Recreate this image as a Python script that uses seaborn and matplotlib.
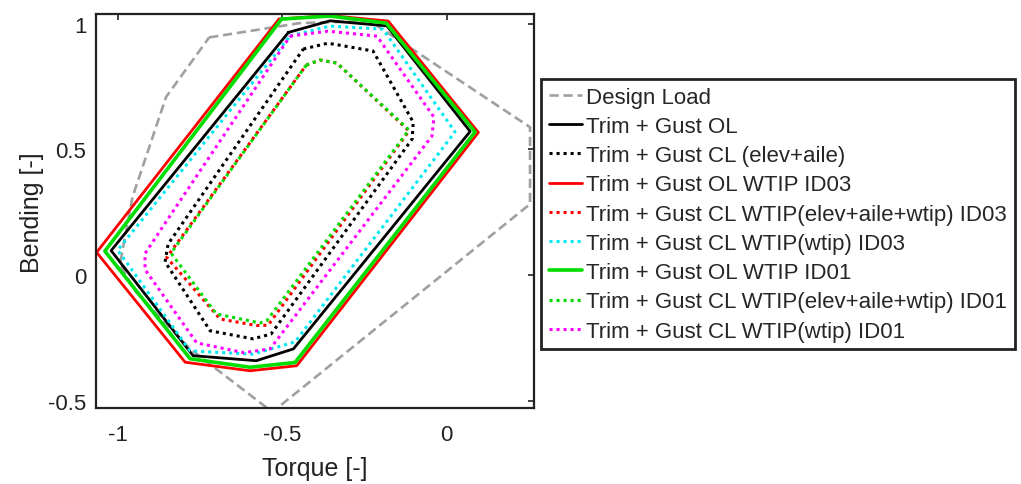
import numpy as np
import matplotlib
matplotlib.use('Agg')
import matplotlib.pyplot as plt
import seaborn as sns
import pandas as pd

sns.set_theme(style='white')
plt.rcParams['font.family'] = ['Liberation Sans', 'DejaVu Sans']
plt.rcParams['axes.unicode_minus'] = False

# vertices of each load envelope (torque, bending)
design_x = [-0.722, -0.446, -0.233, 0.253, 0.253, -0.53, -0.78, -0.95, -0.993, -0.955, -0.853]
design_y = [0.945, 1.002, 1.01, 0.588, 0.282, -0.545, -0.294, -0.06, 0.044, 0.31, 0.708]

ol_x = [-0.481, -0.355, -0.182, 0.071, -0.466, -0.579, -0.771, -1.020]
ol_y = [0.965, 1.011, 0.991, 0.571, -0.294, -0.341, -0.321, 0.097]

cl_x = [-0.436, -0.361, -0.224, -0.102, -0.105, -0.534, -0.589, -0.719, -0.856, -0.847]
cl_y = [0.899, 0.922, 0.891, 0.608, 0.541, -0.235, -0.254, -0.222, 0.052, 0.123]

ol03_x = [-0.510, -0.355, -0.178, 0.096, -0.456, -0.598, -0.795, -1.064]
ol03_y = [1.018, 1.032, 1.010, 0.567, -0.361, -0.381, -0.347, 0.090]

cl03_x = [-0.427, -0.385, -0.334, -0.115, -0.543, -0.578, -0.689, -0.851]
cl03_y = [0.835, 0.855, 0.843, 0.573, -0.200, -0.201, -0.175, 0.070]

wt03_x = [-0.476, -0.355, -0.194, 0.025, -0.461, -0.589, -0.780, -1.000]
wt03_y = [0.951, 0.990, 0.978, 0.569, -0.266, -0.315, -0.302, 0.099]

ol01_x = [-0.502, -0.355, -0.184, 0.086, -0.461, -0.598, -0.780, -1.039]
ol01_y = [1.018, 1.030, 1.002, 0.569, -0.348, -0.367, -0.333, 0.095]

cl01_x = [-0.427, -0.385, -0.334, -0.115, -0.547, -0.568, -0.700, -0.838]
cl01_y = [0.835, 0.855, 0.843, 0.577, -0.182, -0.191, -0.155, 0.087]

wt01_x = [-0.476, -0.361, -0.212, -0.039, -0.045, -0.537, -0.617, -0.760, -0.917, -0.917, -0.861]
wt01_y = [0.950, 0.970, 0.950, 0.628, 0.553, -0.294, -0.309, -0.270, 0.022, 0.085, 0.196]

labels = ['Design Load', 'Trim + Gust OL', 'Trim + Gust CL (elev+aile)',
          'Trim + Gust OL WTIP ID03', 'Trim + Gust CL WTIP(elev+aile+wtip) ID03',
          'Trim + Gust CL WTIP(wtip) ID03', 'Trim + Gust OL WTIP ID01',
          'Trim + Gust CL WTIP(elev+aile+wtip) ID01', 'Trim + Gust CL WTIP(wtip) ID01']

series = [(design_x, design_y), (ol_x, ol_y), (cl_x, cl_y), (ol03_x, ol03_y),
          (cl03_x, cl03_y), (wt03_x, wt03_y), (ol01_x, ol01_y), (cl01_x, cl01_y),
          (wt01_x, wt01_y)]

dot = (0, (1, 1.3))
styles = [
    dict(color='#a0a0a0', lw=1.9, ls=(0, (3.5, 1.8))),
    dict(color='black', lw=2.0, ls='-'),
    dict(color='black', lw=2.2, ls=dot),
    dict(color='#ff0000', lw=2.0, ls='-'),
    dict(color='#ff0000', lw=2.2, ls=dot),
    dict(color='#00e8f0', lw=2.2, ls=dot),
    dict(color='#00dd00', lw=2.6, ls='-'),
    dict(color='#00dd00', lw=2.2, ls=dot),
    dict(color='#ff00ff', lw=2.2, ls=dot),
]

fig = plt.figure(figsize=(10.21, 4.85), dpi=100)
ax = fig.add_axes([0.094, 0.1557, 0.429, 0.8133])

for (xs, ys), lab, st in zip(series, labels, styles):
    df = pd.DataFrame({'torque': list(xs) + [xs[0]], 'bending': list(ys) + [ys[0]]})
    sns.lineplot(data=df, x='torque', y='bending', sort=False, estimator=None,
                 ax=ax, label=lab, color=st['color'], linewidth=st['lw'],
                 linestyle=st['ls'])

ax.set_xlim(-1.066, 0.265)
ax.set_ylim(-0.531, 1.038)
ax.set_xticks([-1, -0.5, 0])
ax.set_xticklabels(['-1', '-0.5', '0'])
ax.set_yticks([-0.5, 0, 0.5, 1])
ax.set_yticklabels(['-0.5', '0', '0.5', '1'])
ax.tick_params(direction='in', length=4, width=1.2, labelsize=16, colors='#222222',
               top=True, right=True)
ax.tick_params(axis='x', pad=11)
ax.tick_params(axis='y', pad=7)
for sp in ax.spines.values():
    sp.set_linewidth(1.6)
    sp.set_color('#222222')
ax.set_xlabel('Torque [-]', fontsize=18, color='#222222', labelpad=8)
ax.set_ylabel('Bending [-]', fontsize=18, color='#222222', labelpad=3)

leg = ax.legend(loc='upper left', bbox_to_anchor=(0.530, 0.835),
                bbox_transform=fig.transFigure, fontsize=16, frameon=True,
                fancybox=False, framealpha=1, handlelength=1.5,
                handletextpad=0.18, labelspacing=0.37, borderpad=0.35,
                borderaxespad=0)
leg.get_frame().set_edgecolor('#222222')
leg.get_frame().set_linewidth(2.0)

fig.savefig('out.png', dpi=100)
